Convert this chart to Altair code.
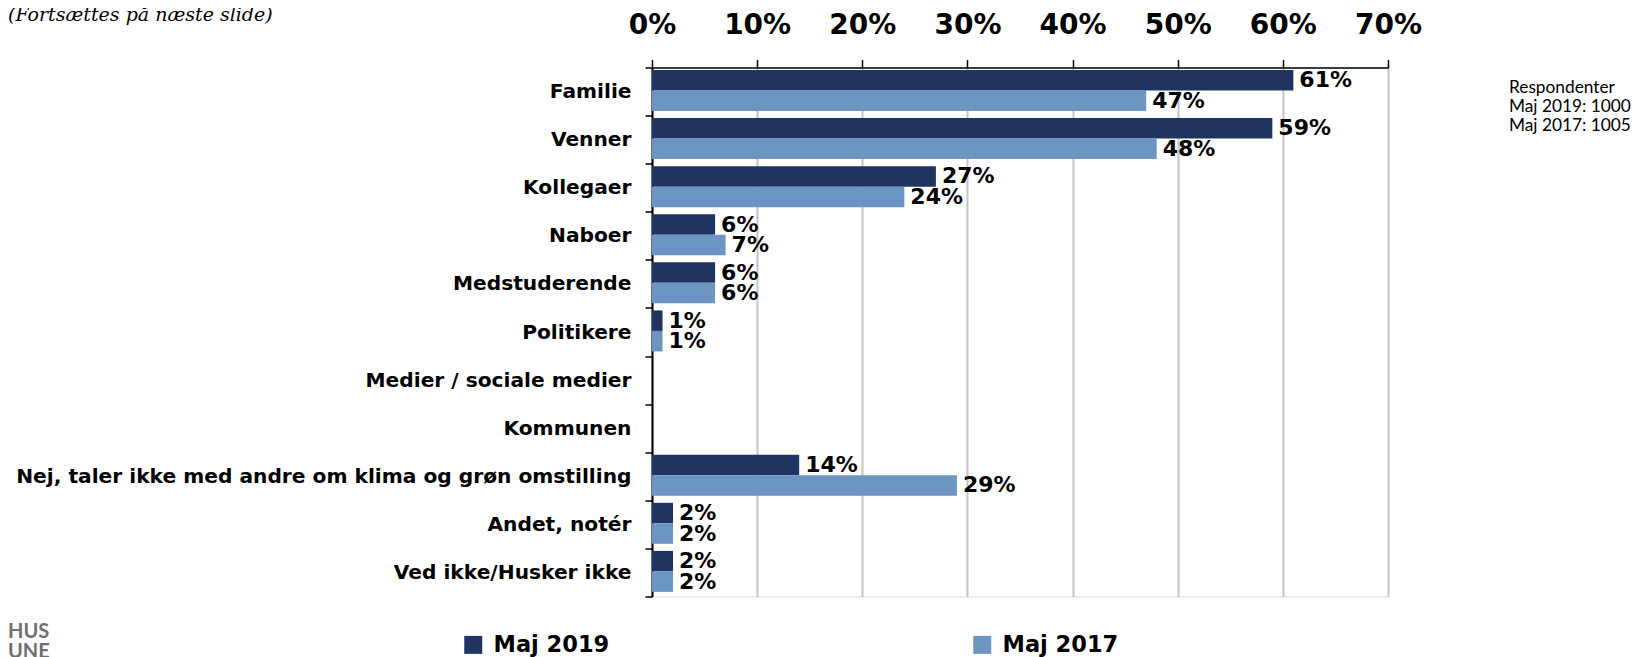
import altair as alt
import pandas as pd

# ---------------- data ----------------
categories = [
    "Familie", "Venner", "Kollegaer", "Naboer", "Medstuderende", "Politikere",
    "Medier / sociale medier", "Kommunen",
    "Nej, taler ikke med andre om klima og grøn omstilling",
    "Andet, notér", "Ved ikke/Husker ikke",
]
maj_2019 = [61, 59, 27, 6, 6, 1, None, None, 14, 2, 2]
maj_2017 = [47, 48, 24, 7, 6, 1, None, None, 29, 2, 2]
series_names = ["Maj 2019", "Maj 2017"]
series_colors = ["#203460", "#6D95C1"]
x_ticks = [0, 10, 20, 30, 40, 50, 60, 70]
note_text = "(Fortsættes på næste slide)"
respondent_lines = ["Respondenter", "Maj 2019: 1000", "Maj 2017: 1005"]
logo_lines = ["HUS", "UNE"]

rows = []
for cat, a, b in zip(categories, maj_2019, maj_2017):
    rows.append({"kategori": cat, "serie": series_names[0], "andel": a})
    rows.append({"kategori": cat, "serie": series_names[1], "andel": b})
df = pd.DataFrame(rows)

FONT = "DejaVu Sans"

y_enc = alt.Y(
    "kategori:N",
    sort=categories,
    scale=alt.Scale(domain=categories, paddingInner=0, paddingOuter=0),
    axis=alt.Axis(
        title=None, labelFont=FONT, labelFontWeight="bold", labelFontSize=20.2,
        labelColor="black", labelPadding=14, labelLimit=0,
        tickBand="extent", tickSize=7, tickColor="black", tickWidth=1.5,
        domainColor="black", domainWidth=2, grid=False,
    ),
)
x_enc = alt.X(
    "andel:Q",
    scale=alt.Scale(domain=[0, 70], nice=False),
    axis=alt.Axis(
        orient="top", values=x_ticks, labelExpr="datum.value + '%'", title=None,
        labelFont=FONT, labelFontWeight="bold", labelFontSize=28, labelColor="black",
        labelPadding=20, labelFlush=False, tickSize=8, tickColor="black", tickWidth=1.5,
        domainColor="black", domainWidth=1.5,
        grid=True, gridColor="#c4c4c4", gridWidth=2,
    ),
)
yoff = alt.YOffset(
    "serie:N", sort=series_names,
    scale=alt.Scale(domain=series_names, paddingInner=0, paddingOuter=0.173, align=0.35),
)
color = alt.Color(
    "serie:N", sort=series_names,
    scale=alt.Scale(domain=series_names, range=series_colors),
    legend=alt.Legend(
        title=None, orient="none", legendX=-190, legendY=566, direction="horizontal",
        symbolType="square", symbolSize=324, symbolStrokeWidth=0, symbolOpacity=1,
        labelFont=FONT, labelFontWeight="bold", labelFontSize=22.5, labelColor="black",
        labelOffset=9, columnPadding=361,
    ),
)

base = alt.Chart(df).transform_filter("isValid(datum.andel)")

bars = base.mark_bar(opacity=1).encode(y=y_enc, x=x_enc, yOffset=yoff, color=color)

labels = base.transform_calculate(
    lbl="datum.andel + '%'"
).mark_text(
    align="left", baseline="middle", dx=6, font=FONT, fontWeight="bold",
    fontSize=22, color="black",
).encode(
    y=alt.Y("kategori:N", sort=categories),
    x=alt.X("andel:Q"),
    yOffset=alt.YOffset("serie:N", sort=series_names),
    text="lbl:N",
)

note = alt.Chart(pd.DataFrame({"t": [note_text]})).mark_text(
    align="left", baseline="alphabetic", font="DejaVu Serif", fontStyle="italic",
    fontSize=19, color="black",
).encode(text="t:N", x=alt.value(-644), y=alt.value(-46.5))

resp = alt.Chart(pd.DataFrame({"t": ["\n".join(respondent_lines)]})).mark_text(
    align="left", baseline="alphabetic", font="Lato", fontSize=17.3, color="black",
    lineBreak="\n", lineHeight=19,
).encode(text="t:N", x=alt.value(857), y=alt.value(25.5))

logo = alt.Chart(pd.DataFrame({"t": ["\n".join(logo_lines)]})).mark_text(
    align="left", baseline="alphabetic", font="Lato", fontWeight="bold", fontSize=20,
    color="#6f6f6f", lineBreak="\n", lineHeight=20,
).encode(text="t:N", x=alt.value(-644), y=alt.value(570.5))

chart = alt.layer(bars, labels, note, resp, logo).properties(
    width=736, height=529,
    autosize=alt.AutoSizeParams(type="none"),
    padding={"left": 644, "top": 59.5, "right": 254, "bottom": 60},
).configure_view(stroke=None).configure(background="white")

chart.save("out.html", embed_options={"renderer": "svg", "actions": False})
